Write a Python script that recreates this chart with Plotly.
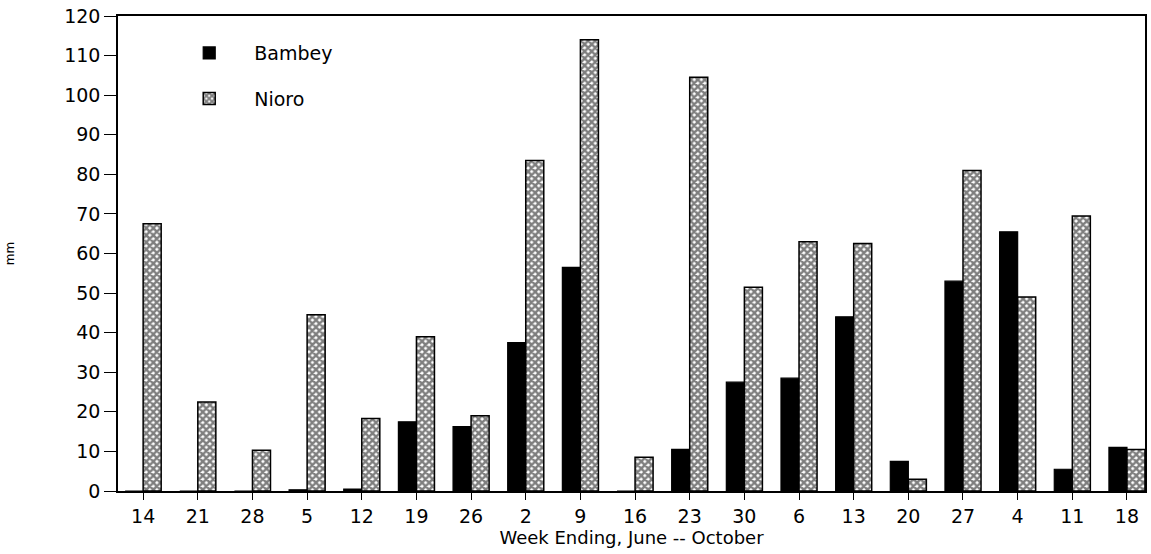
import plotly.graph_objects as go

weeks = ["14", "21", "28", "5", "12", "19", "26", "2", "9", "16",
         "23", "30", "6", "13", "20", "27", "4", "11", "18"]
bambey = [0, 0, 0, 0.3, 0.5, 17.5, 16.3, 37.5, 56.5, 0,
          10.5, 27.5, 28.5, 44, 7.5, 53, 65.5, 5.5, 11]
nioro = [67.5, 22.5, 10.3, 44.5, 18.3, 39, 19, 83.5, 114, 8.5,
         104.5, 51.5, 63, 62.5, 3, 81, 49, 69.5, 10.5]
y_ticks = list(range(0, 121, 10))

FONT = "DejaVu Sans"

fig = go.Figure()
fig.add_trace(go.Bar(
    x=weeks, y=bambey, name="Bambey", legendgroup="b",
    marker=dict(color="black", line=dict(color="black", width=1.2)),
))
fig.add_trace(go.Bar(
    x=weeks, y=nioro, name="Nioro", legendgroup="n",
    marker=dict(color="white", line=dict(color="black", width=1.5),
                pattern=dict(shape="x", fgcolor="black", bgcolor="white",
                             size=5, solidity=0.72)),
))

fig.update_layout(
    width=1151, height=554,
    margin=dict(l=118, r=6, t=16, b=63),
    paper_bgcolor="white", plot_bgcolor="white",
    barmode="group", bargap=0.34, bargroupgap=0,
    font=dict(family=FONT, size=18, color="black"),
    showlegend=True,
    legend=dict(x=0.045, y=0.962, xanchor="left", yanchor="top",
                bgcolor="rgba(0,0,0,0)", font=dict(size=19, family=FONT),
                itemwidth=80, traceorder="grouped", tracegroupgap=18),
    xaxis=dict(
        type="category", range=[-0.46, 18.33], automargin=False,
        showline=True, linecolor="black", linewidth=1.5, mirror=True,
        ticks="outside", ticklen=7, tickwidth=1.2, tickcolor="black",
        showgrid=False, zeroline=False, ticklabeloverflow="allow",
        tickfont=dict(size=19, family=FONT),
        title=dict(text="Week Ending, June -- October", font=dict(size=18, family=FONT), standoff=0),
    ),
    yaxis=dict(
        range=[0, 120], tickvals=y_ticks, automargin=False,
        showline=True, linecolor="black", linewidth=1.5, mirror=True,
        ticks="outside", ticklen=12, tickwidth=1.2, tickcolor="black",
        showgrid=False, zeroline=False, ticklabeloverflow="allow",
        tickfont=dict(size=19, family=FONT),
        title=dict(text="mm", font=dict(size=12, family=FONT), standoff=47),
    ),
)

fig.write_html("out.html", config={"displayModeBar": False},
               post_script="document.body.style.margin='0';document.body.style.overflow='hidden';")
